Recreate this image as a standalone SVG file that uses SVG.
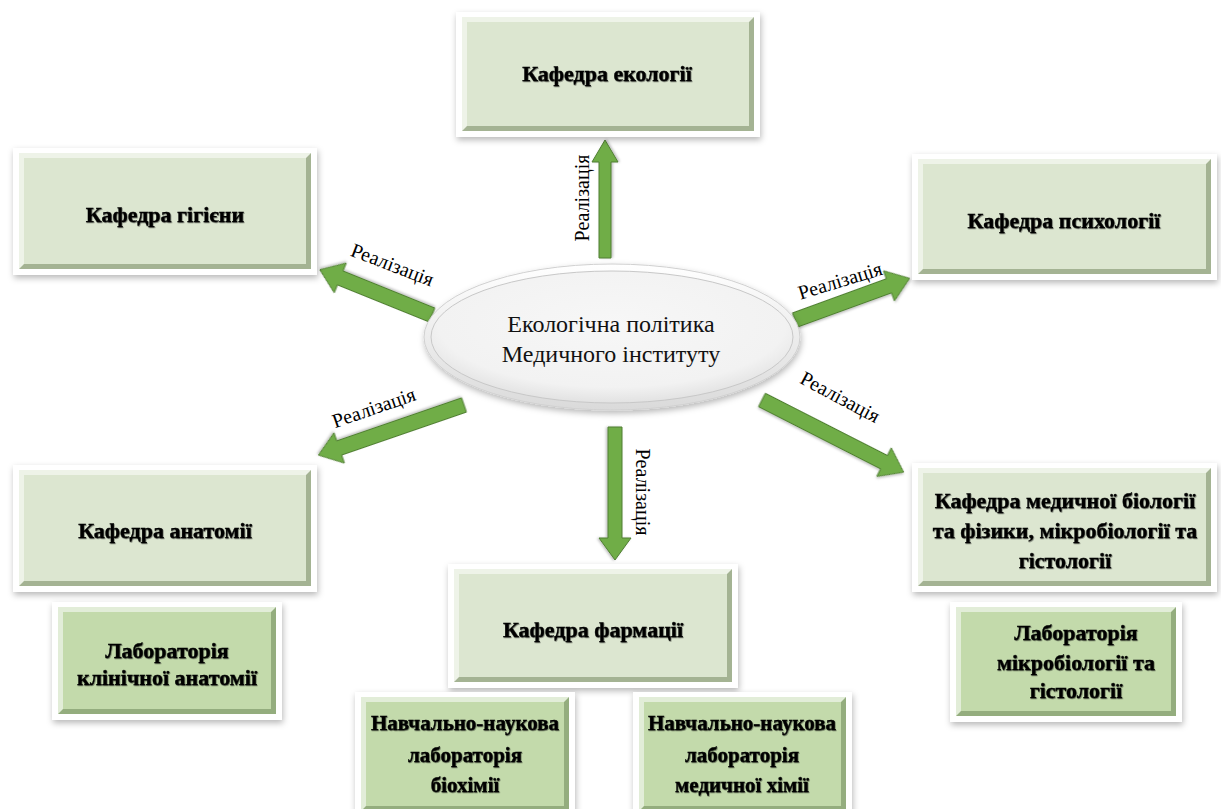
<svg xmlns="http://www.w3.org/2000/svg" width="1221" height="809" viewBox="0 0 1221 809">
<defs>
<filter id="sh" x="-10%" y="-10%" width="125%" height="130%">
<feDropShadow dx="1" dy="3" stdDeviation="3" flood-color="#000" flood-opacity="0.28"/>
</filter>
<filter id="tsh" x="-5%" y="-20%" width="110%" height="150%">
<feDropShadow dx="0.6" dy="0.8" stdDeviation="0.6" flood-color="#000" flood-opacity="0.55"/>
</filter>
<filter id="ash" x="-10%" y="-30%" width="120%" height="160%">
<feDropShadow dx="0.5" dy="1.5" stdDeviation="1.2" flood-color="#000" flood-opacity="0.25"/>
</filter>
<radialGradient id="eg" cx="50%" cy="40%" r="60%">
<stop offset="0" stop-color="#F7F7F7"/>
<stop offset="0.8" stop-color="#F2F2F2"/>
<stop offset="1" stop-color="#E2E2E2"/>
</radialGradient>
<linearGradient id="ering" x1="0" y1="0" x2="0" y2="1">
<stop offset="0" stop-color="#FFFFFF"/>
<stop offset="1" stop-color="#DADADA"/>
</linearGradient>
<style>
.frame{fill:#FFFFFF;filter:url(#sh)}
.bevA{fill:#A4B393}
.bevB{fill:#EEF3E8}
.face{fill:#DCE6D0}
.bevA2{fill:#94AD7E}
.bevB2{fill:#E2EDD8}
.face2{fill:#C3DAAB}
.bt{font-family:"Liberation Serif","DejaVu Serif","Times New Roman",serif;font-weight:bold;font-size:22px;fill:#000;stroke:#000;stroke-width:0.35;text-anchor:middle;filter:url(#tsh)}
.bt.s{font-size:21px}
.et{font-family:"Liberation Serif","DejaVu Serif","Times New Roman",serif;font-size:24px;fill:#111;text-anchor:middle}
.lbl{font-family:"Liberation Serif","DejaVu Serif","Times New Roman",serif;font-size:20px;fill:#000;text-anchor:middle}
.arr{fill:#70AD47;stroke:#507E32;stroke-width:1;filter:url(#ash)}
</style>
</defs>

<g id="connectors">
<path class="arr" transform="translate(605,258) rotate(-90)" d="M0,-6 L96,-6 L96,-13 L118,0 L96,13 L96,6 L0,6 Z"/>
<path class="arr" transform="translate(615,427) rotate(90)" d="M0,-7 L111,-7 L111,-16 L133,0 L111,16 L111,7 L0,7 Z"/>
<path class="arr" transform="translate(432,315) rotate(-158)" d="M0,-7.5 L99,-7.5 L99,-16 L121,0 L99,16 L99,7.5 L0,7.5 Z"/>
<path class="arr" transform="translate(795,320) rotate(-20)" d="M0,-7.5 L100,-7.5 L100,-16 L122,0 L100,16 L100,7.5 L0,7.5 Z"/>
<path class="arr" transform="translate(464,405) rotate(161)" d="M0,-7.5 L132,-7.5 L132,-16 L154,0 L132,16 L132,7.5 L0,7.5 Z"/>
<path class="arr" transform="translate(762,400) rotate(27)" d="M0,-7.5 L137,-7.5 L137,-16 L159,0 L137,16 L137,7.5 L0,7.5 Z"/>
<rect x="574" y="134" width="17" height="124" fill="#FFFFFF"/>
<text class="lbl" transform="translate(589,198) rotate(-90)">Реалізація</text>
<rect x="636" y="420" width="16" height="145" fill="#FFFFFF"/>
<text class="lbl" transform="translate(636,492) rotate(90)">Реалізація</text>
<text class="lbl" transform="translate(390,271) rotate(21)">Реалізація</text>
<text class="lbl" transform="translate(842,287) rotate(-17)">Реалізація</text>
<text class="lbl" transform="translate(376,414) rotate(-19)">Реалізація</text>
<text class="lbl" transform="translate(837,403) rotate(28)">Реалізація</text>
</g>

<g id="center">
<ellipse cx="612" cy="337" rx="188" ry="73" fill="url(#ering)" stroke="#D0D0D0" stroke-width="1" filter="url(#sh)"/>
<ellipse cx="612" cy="337" rx="181" ry="66" fill="url(#eg)" stroke="#C8C8C8" stroke-width="1"/>
<text class="et" x="611" y="332">Екологічна політика</text>
<text class="et" x="611" y="362">Медичного інституту</text>
</g>

<g id="ecology">
<rect class="frame" x="456" y="12" width="304" height="125"/>
<rect class="bevA" x="462" y="17" width="292" height="114"/>
<polygon class="bevB" points="462,17 754,17 749,22 467,22 467,126 462,131"/>
<rect class="face" x="467" y="22" width="282" height="104"/>
<text class="bt" x="607" y="81">Кафедра екології</text>
</g>

<g id="hygiene">
<rect class="frame" x="13" y="148" width="304" height="127"/>
<rect class="bevA" x="19" y="153" width="292" height="116"/>
<polygon class="bevB" points="19,153 311,153 306,158 24,158 24,264 19,269"/>
<rect class="face" x="24" y="158" width="282" height="106"/>
<text class="bt" x="165" y="222">Кафедра гігієни</text>
</g>

<g id="psychology">
<rect class="frame" x="912" y="154" width="305" height="126"/>
<rect class="bevA" x="918" y="159" width="293" height="115"/>
<polygon class="bevB" points="918,159 1211,159 1206,164 923,164 923,269 918,274"/>
<rect class="face" x="923" y="164" width="283" height="105"/>
<text class="bt" x="1064" y="228">Кафедра психології</text>
</g>

<g id="anatomy">
<rect class="frame" x="13" y="465" width="304" height="127"/>
<rect class="bevA" x="19" y="470" width="292" height="116"/>
<polygon class="bevB" points="19,470 311,470 306,475 24,475 24,581 19,586"/>
<rect class="face" x="24" y="475" width="282" height="106"/>
<text class="bt" x="165" y="538">Кафедра анатомії</text>
</g>

<g id="lab-anatomy">
<rect class="frame" x="52" y="602" width="230" height="118"/>
<rect class="bevA2" x="58" y="607" width="218" height="107"/>
<polygon class="bevB2" points="58,607 276,607 271,612 63,612 63,709 58,714"/>
<rect class="face2" x="63" y="612" width="208" height="97"/>
<text class="bt" x="167" y="658">Лабораторія</text>
<text class="bt" x="167" y="685">клінічної анатомії</text>
</g>

<g id="pharmacy">
<rect class="frame" x="448" y="564" width="290" height="124"/>
<rect class="bevA" x="454" y="569" width="278" height="113"/>
<polygon class="bevB" points="454,569 732,569 727,574 459,574 459,677 454,682"/>
<rect class="face" x="459" y="574" width="268" height="103"/>
<text class="bt" x="593" y="637">Кафедра фармації</text>
</g>

<g id="lab-biochem">
<rect class="frame" x="355" y="692" width="220" height="125"/>
<rect class="bevA2" x="361" y="697" width="208" height="114"/>
<polygon class="bevB2" points="361,697 569,697 564,702 366,702 366,806 361,811"/>
<rect class="face2" x="366" y="702" width="198" height="104"/>
<text class="bt s" x="465" y="730">Навчально-наукова</text>
<text class="bt s" x="465" y="762">лабораторія</text>
<text class="bt s" x="465" y="792">біохімії</text>
</g>

<g id="lab-medchem">
<rect class="frame" x="633" y="692" width="219" height="125"/>
<rect class="bevA2" x="639" y="697" width="207" height="114"/>
<polygon class="bevB2" points="639,697 846,697 841,702 644,702 644,806 639,811"/>
<rect class="face2" x="644" y="702" width="197" height="104"/>
<text class="bt s" x="742" y="730">Навчально-наукова</text>
<text class="bt s" x="742" y="762">лабораторія</text>
<text class="bt s" x="742" y="792">медичної хімії</text>
</g>

<g id="medbio">
<rect class="frame" x="912" y="463" width="305" height="129"/>
<rect class="bevA" x="918" y="468" width="293" height="118"/>
<polygon class="bevB" points="918,468 1211,468 1206,473 923,473 923,581 918,586"/>
<rect class="face" x="923" y="473" width="283" height="108"/>
<text class="bt" x="1065" y="508">Кафедра медичної біології</text>
<text class="bt" x="1065" y="538">та фізики, мікробіології та</text>
<text class="bt" x="1065" y="568">гістології</text>
</g>

<g id="lab-micro">
<rect class="frame" x="950" y="602" width="232" height="120"/>
<rect class="bevA2" x="956" y="607" width="220" height="109"/>
<polygon class="bevB2" points="956,607 1176,607 1171,612 961,612 961,711 956,716"/>
<rect class="face2" x="961" y="612" width="210" height="99"/>
<text class="bt" x="1076" y="640">Лабораторія</text>
<text class="bt" x="1076" y="670">мікробіології та</text>
<text class="bt" x="1076" y="698">гістології</text>
</g>
</svg>
